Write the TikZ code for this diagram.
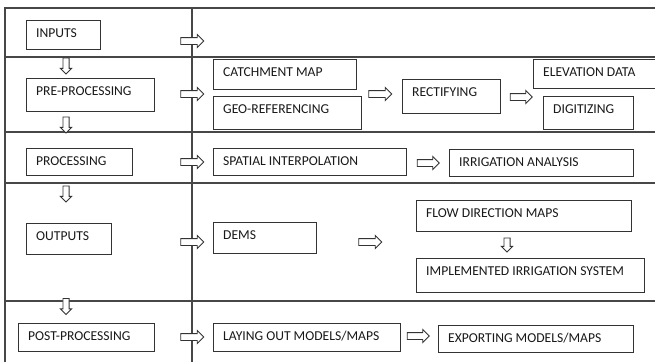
\documentclass[tikz,border=0pt]{standalone}
\usepackage{fontspec}
\setmainfont{Carlito}
\usetikzlibrary{shapes.arrows}

\tikzset{
  gridline/.style={draw=black!72, line width=1.3pt},
  stagebox/.style={draw=black!80, line width=1.1pt, inner sep=0pt, anchor=north west},
  txt/.style={anchor=west, inner sep=0pt, xshift=10pt, yshift=-13.5pt,
    text=black!90, font=\fontsize{13.6}{16}\selectfont},
  % hollow block arrow: the shaft is as thick as text height + text depth
  rarrow/.style={single arrow, draw=black!80, fill=white, line width=0.9pt,
    inner sep=0pt, outer sep=0pt, text height=3pt, text depth=3pt,
    minimum width=0pt, minimum height=23pt, single arrow head extend=3pt},
  darrow/.style={rarrow, text height=2.6pt, text depth=2.6pt,
    minimum height=16pt, single arrow head extend=2.6pt, rotate=-90},
}

% box with its label set near the top left corner: name, x1, y1, x2, y2, text
\newcommand\stagenode[6]{%
  \node[stagebox, minimum width={#4-#2}, minimum height={#5-#3},
        label={[txt]north west:#6}] (#1) at (#2,#3) {};}

\begin{document}
\begin{tikzpicture}[x=1pt, y=-1pt]
\useasboundingbox (0,0) rectangle (655,362);
\clip (0,0) rectangle (655,362);
\fill[white] (0,0) rectangle (655,362);

% table frame
\draw[gridline] (5,362) -- (5,8) -- (660,8);
\foreach \yy in {57,132,183,301}
  \draw[gridline] (5,\yy) -- (660,\yy);
\draw[gridline] (192,8) -- (192,362);

% stage boxes
\stagenode{inputs}{26}{20}{100}{49}{INPUTS}
\stagenode{pre}{26}{78}{154}{111}{PRE-PROCESSING}
\stagenode{proc}{26}{148}{132}{175}{PROCESSING}
\stagenode{outs}{26}{223}{111}{254}{OUTPUTS}
\stagenode{post}{18}{323}{154}{351}{POST-PROCESSING}

% task boxes
\stagenode{catch}{213}{59}{356}{89}{CATCHMENT MAP}
\stagenode{geo}{213}{96}{361}{129}{GEO-REFERENCING}
\stagenode{rect}{402}{79}{500}{113}{RECTIFYING}
\stagenode{elev}{533}{59}{666}{88}{ELEVATION DATA}
\stagenode{digi}{543}{96}{633}{129}{DIGITIZING}
\stagenode{spat}{213}{148}{406}{175}{SPATIAL INTERPOLATION}
\stagenode{irr}{449}{149}{633}{176}{IRRIGATION ANALYSIS}
\stagenode{dems}{213}{222}{316}{253}{DEMS}
\stagenode{flow}{416}{200}{631}{231}{FLOW DIRECTION MAPS}
\stagenode{impl}{416}{258}{644}{292}{IMPLEMENTED IRRIGATION SYSTEM}
\stagenode{lay}{213}{323}{400}{351}{LAYING OUT MODELS/MAPS}
\stagenode{exp}{438}{325}{633}{352}{EXPORTING MODELS/MAPS}

% block arrows pointing right
\node[rarrow] (r1) at (190.5,41) {};
\node[rarrow] (r2) at (190.5,94) {};
\node[rarrow] (r3) at (378.5,94) {};
\node[rarrow, minimum height=22pt] (r4) at (519.5,97) {};
\node[rarrow] (r5) at (190.5,162) {};
\node[rarrow, minimum height=22pt] (r6) at (426.5,163) {};
\node[rarrow] (r7) at (190.5,242) {};
\node[rarrow] (r8) at (368.5,242) {};
\node[rarrow] (r9) at (190.5,337) {};
\node[rarrow, minimum height=22pt] (r10) at (416.5,336) {};

% block arrows pointing down
\node[darrow] (d1) at (66,64.5) {};
\node[darrow] (d2) at (66,123.5) {};
\node[darrow] (d3) at (66,192.5) {};
\node[darrow] (d4) at (66,305) {};
\node[darrow, minimum height=14pt] (d5) at (507,243.5) {};
\end{tikzpicture}
\end{document}
